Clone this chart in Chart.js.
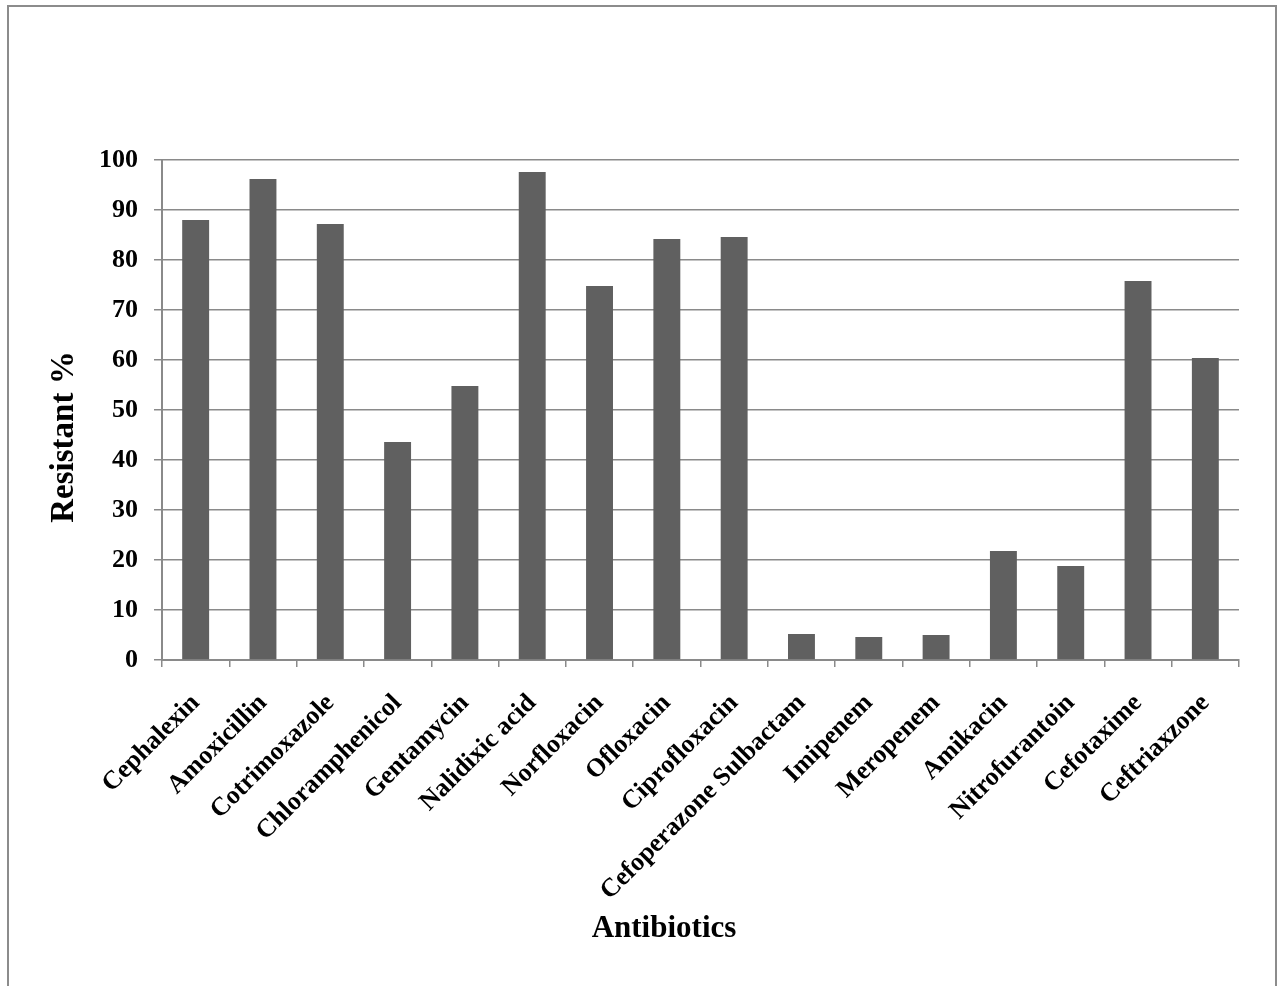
<!DOCTYPE html>
<html>
<head>
<meta charset="utf-8">
<script src="https://cdn.jsdelivr.net/npm/chart.js@4.4.1/dist/chart.umd.min.js"></script>
<style>
  html, body { margin: 0; padding: 0; background: #ffffff; }
  #wrap { position: relative; width: 1280px; height: 986px; }
  canvas { display: block; }
</style>
</head>
<body>
<div id="wrap"><canvas id="chart" width="1280" height="986"></canvas></div>
<script>
// Antibiotics tested and the share of resistant isolates (%)
const antibiotics = [
  'Cephalexin', 'Amoxicillin', 'Cotrimoxazole', 'Chloramphenicol', 'Gentamycin',
  'Nalidixic acid', 'Norfloxacin', 'Ofloxacin', 'Ciprofloxacin', 'Cefoperazone Sulbactam',
  'Imipenem', 'Meropenem', 'Amikacin', 'Nitrofurantoin', 'Cefotaxime', 'Ceftriaxzone'
];
const resistantPercent = [
  88.0, 96.2, 87.2, 43.6, 54.8,
  97.6, 74.8, 84.2, 84.6, 5.2,
  4.6, 5.0, 21.8, 18.8, 75.8, 60.4
];
const yTicks = [0, 10, 20, 30, 40, 50, 60, 70, 80, 90, 100];
const xTitle = 'Antibiotics';
const yTitle = 'Resistant %';

const SERIF = '"Liberation Serif", "Times New Roman", serif';
const GRID = '#8a8a8a';

// Light grey frame around the whole figure
const framePlugin = {
  id: 'frame',
  beforeDraw(chart) {
    const ctx = chart.ctx;
    ctx.save();
    ctx.fillStyle = '#ffffff';
    ctx.fillRect(0, 0, chart.width, chart.height);
    ctx.strokeStyle = '#8c8c8c';
    ctx.lineWidth = 2;
    ctx.strokeRect(8, 6, 1268, 1000);
    ctx.restore();
  }
};

// Axis titles, placed the way the figure lays them out
const axisTitlePlugin = {
  id: 'axisTitles',
  afterDraw(chart) {
    const ctx = chart.ctx;
    ctx.save();
    ctx.fillStyle = '#000000';
    ctx.font = 'bold 31px ' + SERIF;
    ctx.textAlign = 'center';
    ctx.textBaseline = 'alphabetic';
    ctx.fillText(xTitle, 664, 937);

    ctx.font = 'bold 33px ' + SERIF;
    ctx.translate(73, 437);
    ctx.rotate(-Math.PI / 2);
    ctx.fillText(yTitle, 0, 0);
    ctx.restore();
  }
};

new Chart(document.getElementById('chart'), {
  type: 'bar',
  data: {
    labels: antibiotics,
    datasets: [{
      label: yTitle,
      data: resistantPercent,
      backgroundColor: '#606060',
      borderWidth: 0,
      barPercentage: 0.4,
      categoryPercentage: 1.0
    }]
  },
  options: {
    responsive: false,
    animation: false,
    devicePixelRatio: 1,
    layout: { padding: { left: 0, right: 41, top: 160, bottom: 0 } },
    plugins: {
      legend: { display: false },
      tooltip: { enabled: false }
    },
    scales: {
      x: {
        afterFit(scale) { scale.height = 326; },
        grid: {
          offset: true,
          drawOnChartArea: false,
          drawTicks: true,
          tickLength: 7,
          color: GRID,
          lineWidth: 1.5
        },
        border: { display: true, color: GRID, width: 2 },
        ticks: {
          autoSkip: false,
          minRotation: 45,
          maxRotation: 45,
          padding: 21,
          color: '#000000',
          font: { family: SERIF, size: 26, weight: 'bold' }
        }
      },
      y: {
        min: 0,
        max: 100,
        afterFit(scale) { scale.width = 162; },
        afterBuildTicks(scale) { scale.ticks = yTicks.map(v => ({ value: v })); },
        grid: {
          drawTicks: true,
          tickLength: 8,
          color: GRID,
          lineWidth: 1.5
        },
        border: { display: true, color: GRID, width: 2 },
        ticks: {
          padding: 16,
          color: '#000000',
          font: { family: SERIF, size: 26, weight: 'bold' }
        }
      }
    }
  },
  plugins: [framePlugin, axisTitlePlugin]
});
</script>
</body>
</html>
